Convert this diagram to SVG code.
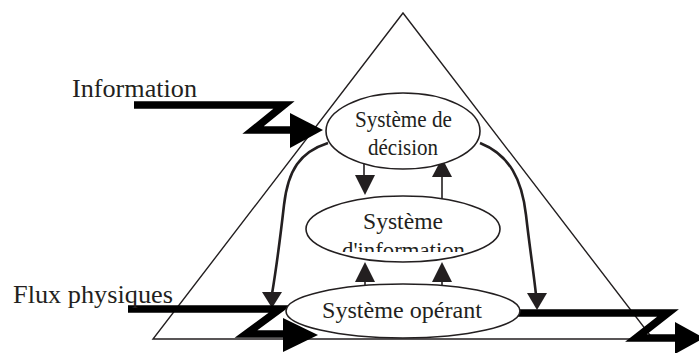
<svg xmlns="http://www.w3.org/2000/svg" width="699" height="353" viewBox="0 0 699 353">
<style>
  text { font-family: "Liberation Serif", "Times New Roman", serif; fill: #231f20; }
  .lbl { font-size: 25px; }
  .nt { font-size: 24px; }
  .tri { fill: none; stroke: #231f20; stroke-width: 1.4; }
  .ell { fill: #fff; stroke: #231f20; stroke-width: 1.6; }
  .big { fill: none; stroke: #000; stroke-width: 7.5; stroke-linejoin: miter; stroke-miterlimit: 10; }
  .head { fill: #000; }
  .curve { fill: none; stroke: #231f20; stroke-width: 2.6; }
  .thin { fill: none; stroke: #231f20; stroke-width: 1.6; }
  .sh { fill: #231f20; }
</style>
<defs>
  <clipPath id="clipInfo"><rect x="300" y="200" width="210" height="52"/></clipPath>
</defs>
<rect width="699" height="353" fill="#fff"/>
<g id="triangle">
  <polygon class="tri" points="403,13 653,339 153,339"/>
</g>
<g id="connectors">
  <path class="curve" d="M328,143 C300,152 288,170 284,205 C280,240 276,270 272,294"/>
  <polygon class="sh" points="262,292 282,292 272,308"/>
  <path class="curve" d="M480,143 C510,155 522,180 526,215 C530,250 534,275 536,295"/>
  <polygon class="sh" points="527,293 547,293 537,310"/>
  <line class="thin" x1="364" y1="157" x2="364" y2="178"/>
  <polygon class="sh" points="355,175 375,175 365,195"/>
  <line class="thin" x1="442" y1="175" x2="442" y2="199"/>
  <polygon class="sh" points="432,177 452,177 442,158"/>
  <line class="thin" x1="365" y1="280" x2="365" y2="292"/>
  <polygon class="sh" points="355,282 375,282 365,262"/>
  <line class="thin" x1="442" y1="280" x2="442" y2="292"/>
  <polygon class="sh" points="432,282 452,282 442,262"/>
  <polyline class="big" points="134,105 284,105 253,130 292,130"/>
  <polygon class="head" points="290,113 323,130 290,148"/>
  <polyline class="big" points="128,309 280,309 246,334 286,334"/>
  <polygon class="head" points="283,318 318,335 283,352"/>
  <polyline class="big" points="518,313 668,313 636,338 677,338"/>
  <polygon class="head" points="675,322 704,338 675,354"/>
</g>
<g id="decision">
  <ellipse class="ell" cx="403" cy="131" rx="77" ry="38"/>
  <text class="nt" x="355" y="127" textLength="97" lengthAdjust="spacingAndGlyphs">Système de</text>
  <text class="nt" x="368" y="155" textLength="70" lengthAdjust="spacingAndGlyphs">décision</text>
</g>
<g id="information">
  <ellipse class="ell" cx="403" cy="229" rx="97" ry="33"/>
  <text class="nt" x="363" y="229" textLength="80" lengthAdjust="spacingAndGlyphs">Système</text>
  <text class="nt" x="342" y="258" textLength="123" lengthAdjust="spacingAndGlyphs" clip-path="url(#clipInfo)">d'information</text>
</g>
<g id="operant">
  <ellipse class="ell" cx="403" cy="311" rx="117" ry="27"/>
  <text class="nt" x="322" y="318" textLength="160" lengthAdjust="spacingAndGlyphs">Système opérant</text>
</g>
<g id="labels">
  <text class="lbl" x="72" y="97" textLength="125" lengthAdjust="spacingAndGlyphs">Information</text>
  <text class="lbl" x="13" y="303" textLength="160" lengthAdjust="spacingAndGlyphs">Flux physiques</text>
</g>
</svg>
